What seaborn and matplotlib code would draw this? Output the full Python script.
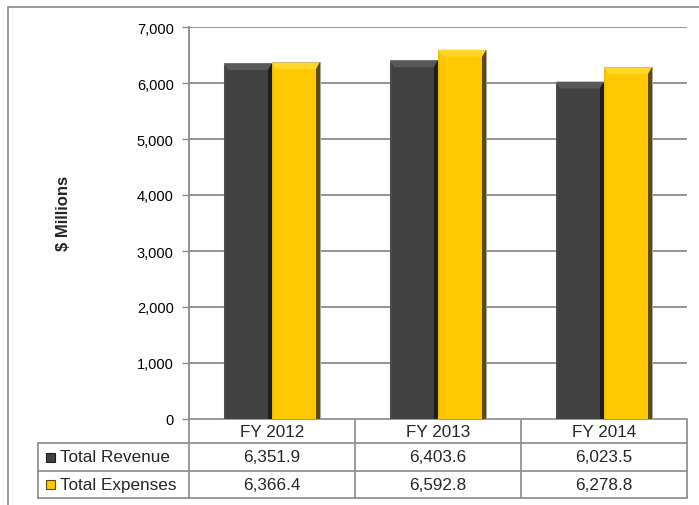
import numpy as np
import pandas as pd
import matplotlib
matplotlib.use("Agg")
import matplotlib.pyplot as plt
import matplotlib.transforms as mtransforms
import matplotlib.colors as mcolors
from matplotlib.lines import Line2D
from matplotlib.patches import Rectangle, Polygon
import seaborn as sns

# ---- data ----
years = ["FY 2012", "FY 2013", "FY 2014"]
series = ["Total Revenue", "Total Expenses"]
revenue = [6351.9, 6403.6, 6023.5]
expenses = [6366.4, 6592.8, 6278.8]
revenue_labels = ["6,351.9", "6,403.6", "6,023.5"]
expense_labels = ["6,366.4", "6,592.8", "6,278.8"]
yticks = [0, 1000, 2000, 3000, 4000, 5000, 6000, 7000]

sns.set_theme(style="white")
plt.rcParams['font.family'] = ['Liberation Sans', 'DejaVu Sans']

W, H = 699, 506
def fx(px): return px / W
def fy(py): return 1 - py / H

col_dark = "#414141"
col_gold = "#FFC800"
grid_c = "#8c8c8c"
line_c = "#8a8a8a"

fig = plt.figure(figsize=(W / 100, H / 100), dpi=100)
ax = fig.add_axes([fx(189), fy(420), fx(687) - fx(189), fy(28) - fy(420)])

df = pd.DataFrame({
    "Year": years * 2,
    "Series": [series[0]] * 3 + [series[1]] * 3,
    "Value": revenue + expenses,
})
sns.barplot(data=df, x="Year", y="Value", hue="Series",
            palette=[col_dark, col_gold], width=0.58, saturation=1,
            edgecolor="#a8a8a8", linewidth=0.8, ax=ax, legend=False, zorder=3)

ax.set_xlim(-0.5, 2.5)
ax.set_ylim(0, 7000)
ax.set_yticks(yticks)
ax.set_yticklabels([f"{v:,}" for v in yticks], fontsize=10.5, color="black")
ax.tick_params(axis="y", direction="out", length=5, width=1, color=line_c, pad=6, left=True)
ax.tick_params(axis="x", bottom=False, labelbottom=False)
ax.set_xlabel("")
ax.set_ylabel("")
ax.grid(False)
for v in yticks[1:]:
    ax.axhline(v, color=grid_c, lw=1.3, zorder=1)
for s in ["top", "right"]:
    ax.spines[s].set_visible(False)
ax.spines["left"].set_color(line_c)
ax.spines["left"].set_linewidth(1.3)
ax.spines["bottom"].set_color(line_c)
ax.spines["bottom"].set_linewidth(1.2)

# bevel shading on the bars
bev = {col_dark: ("#595959", "#1e1e1e", "#4b4b4b"),
       col_gold: ("#FFD62A", "#5e4a00", "#F2BE00")}
for p in list(ax.patches):
    x0, w, h = p.get_x(), p.get_width(), p.get_height()
    fc = mcolors.to_hex(p.get_facecolor())
    key = col_dark if fc.lower() == col_dark.lower() else col_gold
    top_c, right_c, left_c = bev[key]
    dx = w * 0.09
    dy = 120
    ax.add_patch(Polygon([[x0, h], [x0 + w, h], [x0 + w - dx, h - dy], [x0 + dx, h - dy]],
                         closed=True, facecolor=top_c, edgecolor="none", zorder=4))
    ax.add_patch(Polygon([[x0 + w, h], [x0 + w, 0], [x0 + w - dx, 0], [x0 + w - dx, h - dy]],
                         closed=True, facecolor=right_c, edgecolor="none", zorder=4))
    ax.add_patch(Polygon([[x0, h], [x0, 0], [x0 + dx * 0.5, 0], [x0 + dx * 0.5, h - dy]],
                         closed=True, facecolor=left_c, edgecolor="none", zorder=4))

# y label
fig.text(fx(63), fy(213), "$ Millions", rotation=90, fontsize=12, fontweight="bold",
         ha="center", va="center")

# outer border
fig.add_artist(Line2D([fx(8), fx(8)], [fy(8), fy(506)], color=line_c, lw=1.2, transform=fig.transFigure))
fig.add_artist(Line2D([fx(8), fx(699)], [fy(8), fy(8)], color=line_c, lw=1.2, transform=fig.transFigure))

# data table
trans = mtransforms.blended_transform_factory(ax.transData, fig.transFigure)
row_y = [421, 444, 472, 499]
for xb in [-0.5, 0.5, 1.5, 2.5]:
    fig.add_artist(Line2D([xb, xb], [fy(row_y[0]), fy(row_y[-1])], color=line_c, lw=1.2, transform=trans))
for yb in row_y[1:]:
    fig.add_artist(Line2D([fx(38), fx(687)], [fy(yb), fy(yb)], color=line_c, lw=1.2, transform=fig.transFigure))
fig.add_artist(Line2D([fx(38), fx(38)], [fy(row_y[1]), fy(row_y[-1])], color=line_c, lw=1.2, transform=fig.transFigure))

fs = 12.3
for i, yr in enumerate(years):
    fig.text(i, fy((row_y[0] + row_y[1]) / 2), yr, transform=trans, ha="center", va="center", fontsize=fs)
    fig.text(i, fy((row_y[1] + row_y[2]) / 2), revenue_labels[i], transform=trans, ha="center", va="center", fontsize=fs)
    fig.text(i, fy((row_y[2] + row_y[3]) / 2), expense_labels[i], transform=trans, ha="center", va="center", fontsize=fs)

for j, (name, c) in enumerate(zip(series, [col_dark, col_gold])):
    yc = (row_y[j + 1] + row_y[j + 2]) / 2
    fig.add_artist(Rectangle((fx(46), fy(yc + 4.5)), fx(9), 9 / H, facecolor=c,
                             edgecolor=bev[c][1], lw=0.8, transform=fig.transFigure))
    fig.text(fx(60), fy(yc), name, ha="left", va="center", fontsize=fs)

fig.savefig("out.png", dpi=100)
